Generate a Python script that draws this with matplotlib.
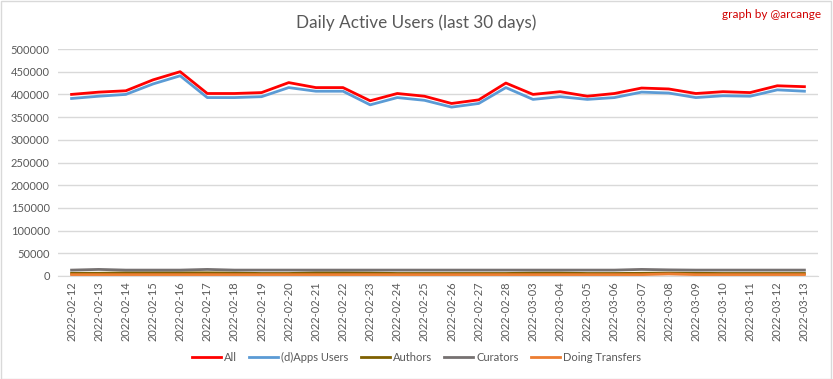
import matplotlib.pyplot as plt

plt.rcParams['font.family'] = ['Lato', 'DejaVu Sans']

dates = ['2022-02-12', '2022-02-13', '2022-02-14', '2022-02-15', '2022-02-16',
         '2022-02-17', '2022-02-18', '2022-02-19', '2022-02-20', '2022-02-21',
         '2022-02-22', '2022-02-23', '2022-02-24', '2022-02-25', '2022-02-26',
         '2022-02-27', '2022-02-28', '2022-03-03', '2022-03-04', '2022-03-05',
         '2022-03-06', '2022-03-07', '2022-03-08', '2022-03-09', '2022-03-10',
         '2022-03-11', '2022-03-12', '2022-03-13']

all_users = [400000, 405000, 408000, 432000, 450000, 402000, 402000, 404000,
             426000, 415000, 415000, 386000, 402000, 396000, 380000, 388000,
             425000, 400000, 406000, 396000, 402000, 414000, 412000, 402000,
             406000, 404000, 419000, 417000]
apps_users = [391000, 396000, 400000, 423000, 441000, 393000, 393000, 395000,
              415000, 407000, 407000, 377000, 393000, 387000, 372000, 380000,
              415000, 389000, 395000, 389000, 393000, 405000, 403000, 393000,
              397000, 396000, 410000, 407000]
authors = [6000, 6000, 7000, 7000, 7000, 7000, 6500, 5500, 5500, 7000, 7000,
           6500, 5500, 5500, 5500, 5500, 5500, 6500, 6500, 5500, 5500, 6000,
           6500, 6000, 5500, 5500, 5500, 5500]
curators = [13000, 14500, 13000, 13000, 13000, 14500, 13000, 13000, 13000,
            13000, 13000, 13000, 13000, 13000, 13000, 13000, 13000, 13000,
            13000, 13000, 13000, 14500, 13500, 13000, 13000, 13000, 13000,
            13000]
transfers = [3000, 3000, 3000, 3000, 3000, 3000, 3000, 3000, 3000, 3000, 3000,
             3000, 3000, 3000, 3000, 3000, 3000, 3000, 3000, 3000, 3000, 3000,
             4500, 3000, 3000, 3000, 3000, 3000]

series = [('All', all_users, '#ff0000'),
          ('(d)Apps Users', apps_users, '#5b9bd5'),
          ('Authors', authors, '#7f6000'),
          ('Curators', curators, '#767171'),
          ('Doing Transfers', transfers, '#ed7d31')]

fig = plt.figure(figsize=(8.33, 3.79), dpi=100)
ax = fig.add_axes([58 / 833, 1 - 276 / 379, 760 / 833, 227 / 379])

x = list(range(len(dates)))
for name, vals, color in series:
    ax.plot(x, vals, color=color, lw=2, label=name)

ax.set_xlim(-0.5, len(dates) - 0.5)
ax.set_ylim(0, 500000)
ax.set_yticks(range(0, 500001, 50000))
ax.set_xticks(x)
ax.set_xticklabels(dates, rotation=90)
ax.tick_params(axis='both', length=0, labelsize=8, labelcolor='#595959')
ax.tick_params(axis='y', pad=6)
ax.tick_params(axis='x', pad=4)
ax.grid(axis='y', color='#d9d9d9', lw=1)
ax.set_axisbelow(True)
for s in ['top', 'right', 'left']:
    ax.spines[s].set_visible(False)
ax.spines['bottom'].set_color('#d9d9d9')

fig.text(0.5, 1 - 23 / 379, 'Daily Active Users (last 30 days)', ha='center',
         va='center', fontsize=12.3, color='#595959')
fig.text(0.986, 1 - 15 / 379, 'graph by @arcange', ha='right', va='center',
         fontsize=8.5, color='#d00000')

fig.legend(loc='center', bbox_to_anchor=(0.5, 1 - 357 / 379), ncol=5,
           frameon=False, fontsize=8, labelcolor='#595959', handlelength=2.6,
           columnspacing=1.1, handletextpad=0.3)

border = plt.Rectangle((0.001, 0.001), 0.997, 0.996, transform=fig.transFigure,
                       fill=False, edgecolor='#d9d9d9', lw=1)
fig.patches.append(border)

fig.savefig('out.png', dpi=100)
